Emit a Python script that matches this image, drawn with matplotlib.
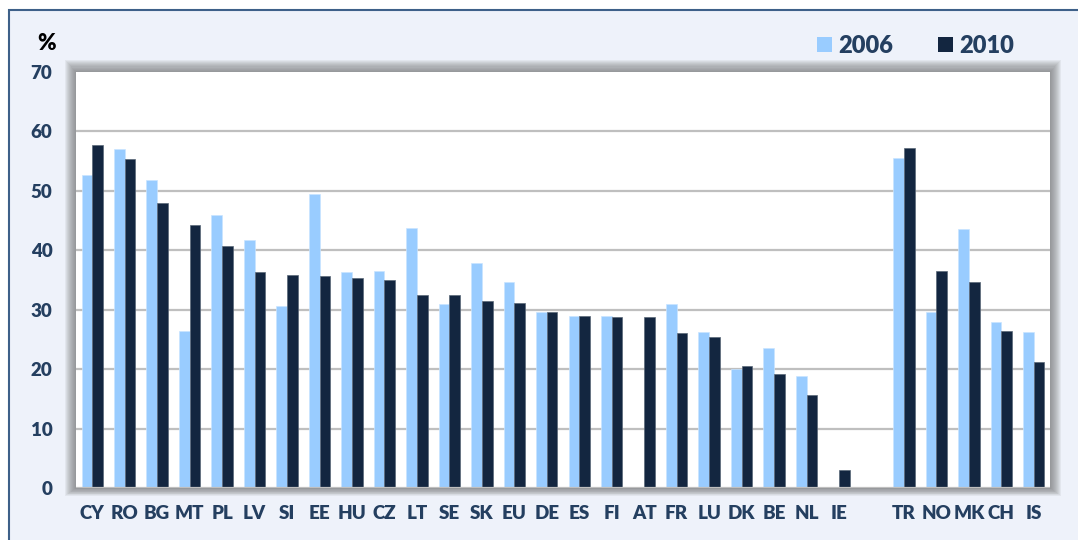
import numpy as np
import matplotlib.pyplot as plt
from matplotlib.patches import Rectangle

# data
eu_labels = ["CY", "RO", "BG", "MT", "PL", "LV", "SI", "EE", "HU", "CZ", "LT", "SE",
             "SK", "EU", "DE", "ES", "FI", "AT", "FR", "LU", "DK", "BE", "NL", "IE"]
eu_2006 = [52.7, 57.1, 51.8, 26.5, 46.0, 41.7, 30.6, 49.4, 36.4, 36.5, 43.8, 31.0,
           37.9, 34.6, 29.6, 28.9, 29.0, np.nan, 30.9, 26.2, 20.0, 23.5, 18.9, np.nan]
eu_2010 = [57.7, 55.3, 48.0, 44.2, 40.7, 36.3, 35.8, 35.6, 35.3, 35.0, 32.5, 32.4,
           31.5, 31.2, 29.6, 28.9, 28.8, 28.7, 26.0, 25.4, 20.6, 19.1, 15.6, 3.1]

other_labels = ["TR", "NO", "MK", "CH", "IS"]
other_2006 = [55.6, 29.6, 43.5, 28.0, 26.3]
other_2010 = [57.2, 36.5, 34.7, 26.5, 21.2]

labels = eu_labels + other_labels
v2006 = np.array(eu_2006 + other_2006)
v2010 = np.array(eu_2010 + other_2010)
# one empty slot between the EU block and the other countries
x = np.concatenate([np.arange(len(eu_labels)),
                    np.arange(len(other_labels)) + len(eu_labels) + 1])

light = "#99CCFF"
dark = "#132640"
txt = "#243F60"
plt.rcParams["font.family"] = ["Lato", "DejaVu Sans"]

fig = plt.figure(figsize=(10.78, 5.40), dpi=100)
fig.patch.set_facecolor("white")

# outer framed panel
fig.patches.append(Rectangle((9 / 1078, -0.1), 1.2, 1 - 10 / 540 + 0.1,
                             transform=fig.transFigure, facecolor="#EEF2FA",
                             edgecolor="#3E6089", linewidth=1.5, zorder=0))

L, B, W, H = 76 / 1078, 52 / 540, 974 / 1078, 416 / 540
# soft shadow around the plot area
for i in range(11, 0, -1):
    dx, dy = i / 1078, i / 540
    fig.patches.append(Rectangle((L - dx, B - dy * 0.7), W + 2 * dx, H + 1.8 * dy,
                                 transform=fig.transFigure, facecolor="#6A6A6A",
                                 edgecolor="none", alpha=0.085, zorder=1))

ax = fig.add_axes([L, B, W, H])
ax.set_facecolor("white")
ax.set_zorder(2)

bw = 0.33
ax.bar(x - bw / 2, v2006, bw, color=light, edgecolor="#C9E4FF", linewidth=0.5,
       label="2006", zorder=3)
ax.bar(x + bw / 2, v2010, bw, color=dark, edgecolor="#5A6778", linewidth=0.5,
       label="2010", zorder=3)

ax.set_xlim(-0.5, x[-1] + 0.5)
ax.set_ylim(0, 70)
ax.set_yticks(np.arange(0, 71, 10))
ax.set_xticks(x)
ax.set_xticklabels(labels)
for y in range(10, 70, 10):
    ax.axhline(y, color="#BFBFBF", linewidth=1.6, zorder=1)
ax.axhline(0, color="#BFBFBF", linewidth=1.6, zorder=4)

for s in ax.spines.values():
    s.set_visible(False)
ax.tick_params(length=0)
ax.tick_params(axis="x", pad=12, labelsize=13.5, labelcolor=txt)
ax.tick_params(axis="y", pad=17, labelsize=13.5, labelcolor=txt)
for t in ax.get_xticklabels() + ax.get_yticklabels():
    t.set_fontweight("heavy")

fig.text(47 / 1078, 1 - 44 / 540, "%", fontsize=16, fontweight="heavy",
         color="black", ha="center", va="center")

leg = fig.legend(loc="center", bbox_to_anchor=(916 / 1078, 1 - 46 / 540), ncol=2,
                 frameon=False, fontsize=17, handlelength=0.6, handleheight=0.6,
                 handletextpad=0.3, columnspacing=1.9)
for t in leg.get_texts():
    t.set_fontweight("heavy")
    t.set_color(txt)
for h in leg.legend_handles:
    h.set_edgecolor("none")

fig.savefig("out.png", dpi=100)
